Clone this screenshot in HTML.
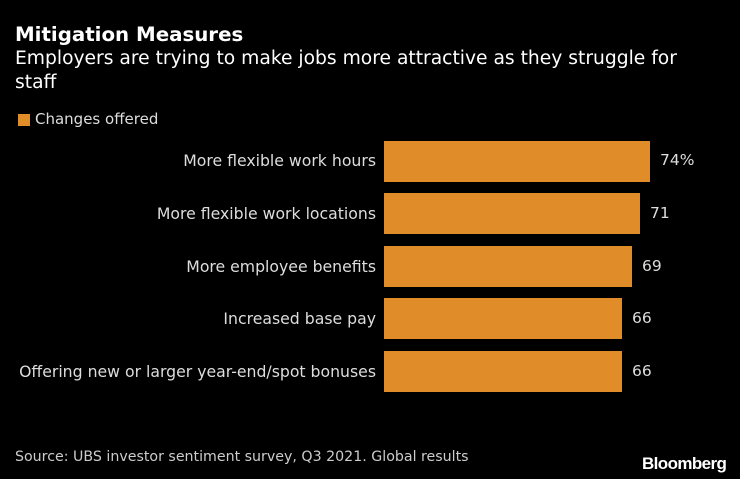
<!DOCTYPE html>
<html><head><style>
body{margin:0;background:#000;width:740px;height:479px;overflow:hidden;font-family:"DejaVu Sans","Liberation Sans",sans-serif;color:#fff;position:relative}
.a{position:absolute;white-space:nowrap}
.bar{position:absolute;left:384px;height:41px;background:#e08c28}
.lab{position:absolute;right:364px;font-size:15.7px;color:#ddd;white-space:nowrap}
.val{position:absolute;font-size:15.5px;color:#ddd}
</style></head><body>
<div class="a" style="left:15px;top:23px;font-size:19.8px;font-weight:bold">Mitigation Measures</div>
<div class="a" style="left:15px;top:47px;font-size:18.7px;line-height:24px;white-space:normal;width:700px">Employers are trying to make jobs more attractive as they struggle for staff</div>
<div class="a" style="left:18px;top:114px;width:12px;height:12px;background:#e08c28"></div>
<div class="a" style="left:35px;top:110px;font-size:15px;color:#ddd">Changes offered</div>

<div class="bar" style="top:141px;width:266px"></div>
<div class="lab" style="top:151px">More flexible work hours</div>
<div class="val" style="left:660px;top:151px">74%</div>

<div class="bar" style="top:193px;width:256px"></div>
<div class="lab" style="top:204px">More flexible work locations</div>
<div class="val" style="left:650px;top:204px">71</div>

<div class="bar" style="top:246px;width:248px"></div>
<div class="lab" style="top:257px">More employee benefits</div>
<div class="val" style="left:642px;top:257px">69</div>

<div class="bar" style="top:298px;width:238px"></div>
<div class="lab" style="top:309px">Increased base pay</div>
<div class="val" style="left:632px;top:309px">66</div>

<div class="bar" style="top:351px;width:238px"></div>
<div class="lab" style="top:362px">Offering new or larger year-end/spot bonuses</div>
<div class="val" style="left:632px;top:362px">66</div>

<div class="a" style="left:15px;top:449px;font-size:14.2px;color:#ccc">Source: UBS investor sentiment survey, Q3 2021. Global results</div>
<div class="a" style="left:642px;top:454px;font-size:17px;font-weight:bold;letter-spacing:-0.6px;font-family:'Liberation Sans',sans-serif">Bloomberg</div>
</body></html>
